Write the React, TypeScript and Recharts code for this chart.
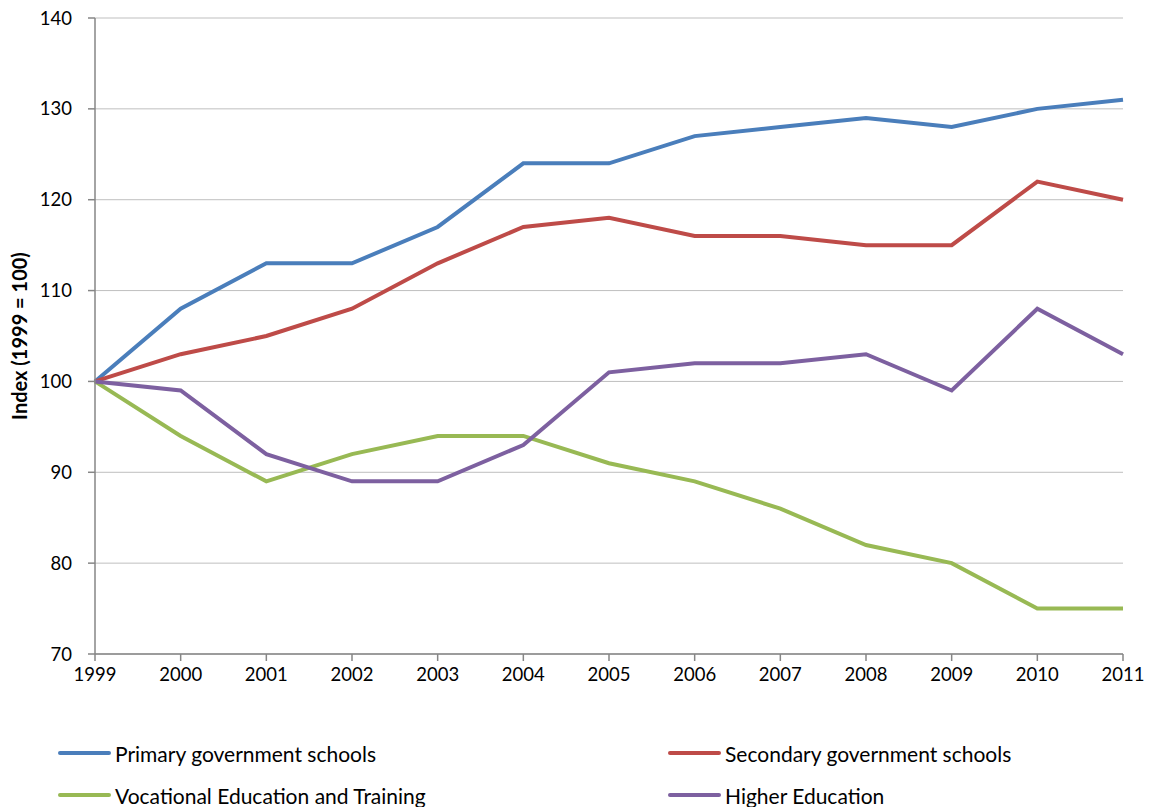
import { LineChart, Line, XAxis, YAxis, CartesianGrid, Label } from 'recharts'

if (typeof document !== 'undefined') document.body.style.margin = '0'

const years = ['1999', '2000', '2001', '2002', '2003', '2004', '2005', '2006', '2007', '2008', '2009', '2010', '2011']
const primary = [100, 108, 113, 113, 117, 124, 124, 127, 128, 129, 128, 130, 131]
const secondary = [100, 103, 105, 108, 113, 117, 118, 116, 116, 115, 115, 122, 120]
const vocational = [100, 94, 89, 92, 94, 94, 91, 89, 86, 82, 80, 75, 75]
const higher = [100, 99, 92, 89, 89, 93, 101, 102, 102, 103, 99, 108, 103]
const yTicks = [70, 80, 90, 100, 110, 120, 130, 140]

const series = [
  { key: 'primary', name: 'Primary government schools', color: '#4A7EBB' },
  { key: 'secondary', name: 'Secondary government schools', color: '#BE4B48' },
  { key: 'vocational', name: 'Vocational Education and Training', color: '#98B954' },
  { key: 'higher', name: 'Higher Education', color: '#7D60A0' },
]

const data = years.map((year, i) => ({
  year,
  primary: primary[i],
  secondary: secondary[i],
  vocational: vocational[i],
  higher: higher[i],
}))

const FONT = 'Lato, "Open Sans", sans-serif'
const tick = { fill: '#000', fontSize: 18.5, fontFamily: FONT }

// legend slots: two columns, two rows
const legendPos = [
  { left: 58, top: 753 },
  { left: 668, top: 753 },
  { left: 58, top: 795 },
  { left: 668, top: 795 },
]

export default function App() {
  return (
    <div style={{ position: 'relative', width: 1149, height: 807, background: '#fff', fontFamily: FONT }}>
      <LineChart width={1149} height={807} data={data} margin={{ top: 18, right: 26, left: 0, bottom: 123 }}>
        <CartesianGrid vertical={false} stroke="#BFBFBF" strokeWidth={1} />
        <XAxis
          dataKey="year"
          scale="point"
          padding={{ left: 0, right: 0 }}
          interval={0}
          tick={tick}
          tickSize={7}
          tickMargin={7}
          stroke="#868686"
          strokeWidth={1.5}
          height={30}
        />
        <YAxis
          domain={[70, 140]}
          ticks={yTicks}
          interval={0}
          tick={tick}
          tickSize={7}
          tickMargin={16}
          stroke="#868686"
          strokeWidth={1.5}
          width={95}
        >
          <Label
            value="Index (1999 = 100)"
            angle={-90}
            position="insideLeft"
            offset={20}
            style={{ fontWeight: 'bold', fontSize: 20, fill: '#000', fontFamily: FONT, textAnchor: 'middle' }}
          />
        </YAxis>
        {series.map(s => (
          <Line
            key={s.key}
            type="linear"
            dataKey={s.key}
            name={s.name}
            stroke={s.color}
            strokeWidth={4}
            dot={false}
            isAnimationActive={false}
          />
        ))}
      </LineChart>
      {series.map((s, i) => (
        <div
          key={s.key}
          style={{
            position: 'absolute',
            left: legendPos[i].left,
            top: legendPos[i].top - 14,
            height: 28,
            display: 'flex',
            alignItems: 'center',
            fontSize: 21,
            whiteSpace: 'nowrap',
          }}
        >
          <span style={{ display: 'inline-block', width: 53, height: 4, borderRadius: 2, background: s.color, marginRight: 4 }} />
          {s.name}
        </div>
      ))}
    </div>
  )
}
